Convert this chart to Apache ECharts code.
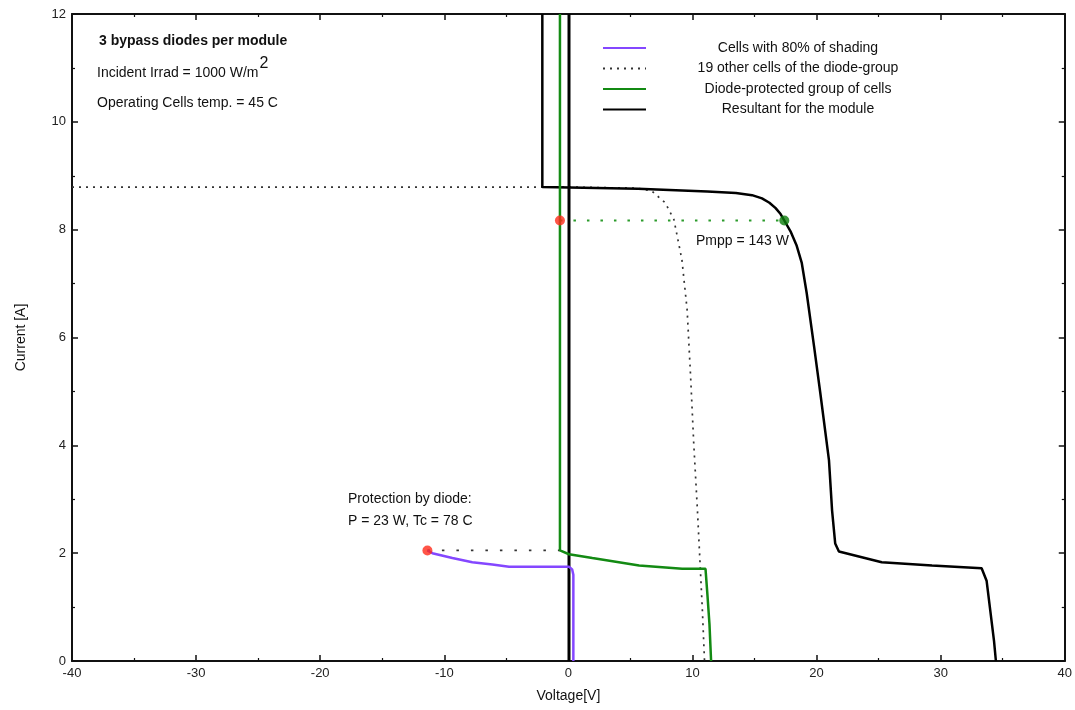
<!DOCTYPE html>
<html>
<head>
<meta charset="utf-8">
<script src="https://cdn.jsdelivr.net/npm/echarts@6/dist/echarts.min.js"></script>
<style>
  html, body { margin: 0; padding: 0; background: #fff; }
  #chart { width: 1075px; height: 710px; }
</style>
</head>
<body>
<div id="chart"></div>
<script>
// I-V curves, [voltage V, current A]
const shadedCell = [[-11.36, 2.05], [-10.96, 2.0], [-9.35, 1.91], [-7.74, 1.83], [-6.13, 1.79], [-4.78, 1.75],
  [0.05, 1.75], [0.3, 1.7], [0.4, 1.6], [0.4, 0]]
const otherCells = [[-40, 8.79], [0, 8.79], [5.5, 8.77], [6.7, 8.72], [7.8, 8.5], [8.5, 8.19], [9.15, 7.44],
  [9.57, 6.51], [9.85, 5.27], [10.1, 4.04], [10.4, 2.79], [10.6, 1.86], [10.8, 0.93], [10.97, 0]]
const diodeGroup = [[-0.68, 12], [-0.68, 2.05], [0.05, 1.98], [1.93, 1.91], [5.7, 1.77], [9.17, 1.71],
  [11.05, 1.71], [11.2, 1.24], [11.37, 0.68], [11.5, 0]]
const moduleCurve = [[-2.1, 12], [-2.1, 8.79], [5.6, 8.76], [11.2, 8.71], [13.5, 8.68], [14.8, 8.64], [15.6, 8.58],
  [16.2, 8.5], [16.7, 8.4], [17.1, 8.29], [17.4, 8.17], [17.9, 7.97], [18.4, 7.7], [18.8, 7.39], [19.2, 6.83],
  [19.8, 5.83], [20.3, 4.97], [21.0, 3.72], [21.25, 2.79], [21.5, 2.18], [21.8, 2.03], [25.25, 1.83],
  [29.3, 1.77], [33.3, 1.72], [33.7, 1.49], [34.0, 0.93], [34.3, 0.37], [34.45, 0]]
const zeroLine = [[0.05, 0], [0.05, 12]]
const diodeGuide = [[-11.36, 2.05], [-0.68, 2.05]]
const mppGuide = [[-0.68, 8.17], [17.4, 8.17]]
const redPoints = [[-11.36, 2.05], [-0.68, 8.17]]
const mppPoint = [[17.4, 8.17]]

const xTicks = [-40, 40, 10]   // min, max, interval
const yTicks = [0, 12, 2]

const legendNames = ['Cells with 80% of shading', '19 other cells of the diode-group',
  'Diode-protected group of cells', 'Resultant for the module']

const FONT = 'Liberation Sans, Arial, sans-serif'
const PURPLE = '#8447ff'
const GREEN = '#138a13'

const chart = echarts.init(document.getElementById('chart'))

const baseAxis = {
  axisLine: { show: true, onZero: false, lineStyle: { color: '#111', width: 2 } },
  axisTick: { show: true, inside: true, length: 6, lineStyle: { color: '#111', width: 1.5 } },
  minorTick: { show: true, splitNumber: 2, length: 3, lineStyle: { color: '#111', width: 1.2 } },
  splitLine: { show: false },
  axisLabel: { color: '#222', fontFamily: FONT, fontSize: 13 }
}

function line (name, data, color, width, type, z) {
  return {
    name: name,
    type: 'line',
    data: data,
    symbol: 'none',
    animation: false,
    z: z || 2,
    lineStyle: { color: color, width: width, type: type || 'solid' },
    itemStyle: { color: color }
  }
}

chart.setOption({
  animation: false,
  grid: { left: 72, right: 9, top: 14, bottom: 49 },
  xAxis: [
    Object.assign({}, baseAxis, {
      type: 'value', min: xTicks[0], max: xTicks[1], interval: xTicks[2],
      name: 'Voltage[V]', nameLocation: 'middle', nameGap: 28,
      nameTextStyle: { color: '#111', fontFamily: FONT, fontSize: 14 },
      axisLabel: Object.assign({}, baseAxis.axisLabel, { margin: 6 })
    }),
    Object.assign({}, baseAxis, {
      type: 'value', position: 'top', min: xTicks[0], max: xTicks[1], interval: xTicks[2],
      axisLabel: { show: false }
    })
  ],
  yAxis: [
    Object.assign({}, baseAxis, {
      type: 'value', min: yTicks[0], max: yTicks[1], interval: yTicks[2],
      name: 'Current [A]', nameLocation: 'middle', nameGap: 44, nameRotate: 90,
      nameTextStyle: { color: '#111', fontFamily: FONT, fontSize: 14 },
      axisLabel: Object.assign({}, baseAxis.axisLabel, { margin: 6 })
    }),
    Object.assign({}, baseAxis, {
      type: 'value', position: 'right', min: yTicks[0], max: yTicks[1], interval: yTicks[2],
      axisLabel: { show: false }
    })
  ],
  legend: {
    data: legendNames,
    orient: 'vertical',
    left: 597,
    top: 36,
    itemWidth: 43,
    itemHeight: 14,
    itemGap: 6.5,
    itemStyle: { opacity: 0 },
    formatter: '{c|{name}}',
    textStyle: {
      rich: { c: { width: 294, align: 'center', fontFamily: FONT, fontSize: 14, color: '#111' } }
    }
  },
  graphic: [
    { type: 'text', left: 99, top: 34, style: { text: '3 bypass diodes per module', font: 'bold 14px ' + FONT, fill: '#111' } },
    {
      type: 'text', left: 97, top: 56,
      style: {
        text: '{a|Incident Irrad = 1000 W/m}{s|2}',
        rich: {
          a: { font: '14px ' + FONT, fill: '#111', verticalAlign: 'bottom' },
          s: { font: '16px ' + FONT, fill: '#111', padding: [0, 0, 8, 1], verticalAlign: 'bottom' }
        }
      }
    },
    { type: 'text', left: 97, top: 96, style: { text: 'Operating Cells temp. = 45 C', font: '14px ' + FONT, fill: '#111' } },
    { type: 'text', left: 696, top: 234, style: { text: 'Pmpp = 143 W', font: '14px ' + FONT, fill: '#111' } },
    { type: 'text', left: 348, top: 492, style: { text: 'Protection by diode:', font: '14px ' + FONT, fill: '#111' } },
    { type: 'text', left: 348, top: 514, style: { text: 'P = 23 W, Tc = 78 C', font: '14px ' + FONT, fill: '#111' } }
  ],
  series: [
    line('guideDiode', diodeGuide, '#333', 1.8, [2.5, 12], 1),
    line('guideMpp', mppGuide, '#2a9a2a', 1.8, [2.5, 11], 1),
    line(legendNames[1], otherCells, '#333', 1.7, [2, 5], 1),
    line('zero', zeroLine, '#000', 3, 'solid', 2),
    line(legendNames[3], moduleCurve, '#000', 2.5, 'solid', 3),
    line(legendNames[2], diodeGroup, GREEN, 2.5, 'solid', 4),
    line(legendNames[0], shadedCell, PURPLE, 2.5, 'solid', 5),
    {
      name: 'red', type: 'scatter', data: redPoints, symbolSize: 10, z: 6,
      itemStyle: { color: '#ff2a1a' }, animation: false
    },
    {
      name: 'mpp', type: 'scatter', data: mppPoint, symbolSize: 10, z: 6,
      itemStyle: { color: '#0b7d0b' }, animation: false
    }
  ]
})
</script>
</body>
</html>
